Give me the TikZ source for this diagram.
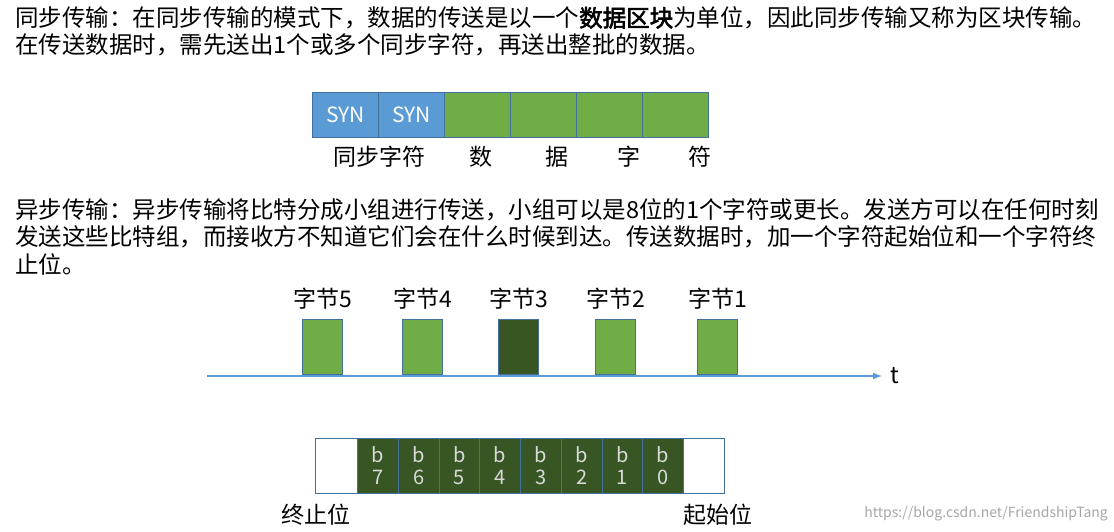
\documentclass[tikz,border=0pt]{standalone}
\usepackage{fontspec}
\setmainfont[AutoFakeBold=2.5]{Noto Sans CJK SC}
\usetikzlibrary{positioning}
\definecolor{synblue}{HTML}{5B9BD5}
\definecolor{datagreen}{HTML}{70AD47}
\definecolor{bitgreen}{HTML}{375623}
\definecolor{edgeblue}{HTML}{41719C}

\begin{document}
\begin{tikzpicture}[x=1pt,y=-1pt,
  txt/.style={anchor=west,inner sep=0pt,font=\fontsize{23.5}{27}\selectfont},
  lbl/.style={inner sep=0pt,font=\fontsize{23}{27}\selectfont},
  cell/.style={draw=edgeblue,line width=1pt,minimum height=45pt,inner sep=0pt,anchor=north west}]
  \useasboundingbox (0,0) rectangle (1114,532);
  % description texts
  \node[txt] (t1) at (15,18) {同步传输：在同步传输的模式下，数据的传送是以一个\textbf{数据区块}为单位，因此同步传输又称为区块传输。};
  \node[txt] (t2) at (15,45) {在传送数据时，需先送出1个或多个同步字符，再送出整批的数据。};
  \node[txt] (t3) at (15,210) {异步传输：异步传输将比特分成小组进行传送，小组可以是8位的1个字符或更长。发送方可以在任何时刻};
  \node[txt] (t4) at (15,237) {发送这些比特组，而接收方不知道它们会在什么时候到达。传送数据时，加一个字符起始位和一个字符终};
  \node[txt] (t5) at (15,264) {止位。};
  % synchronous frame
  \node[cell,fill=synblue,minimum width=66pt,text=white,font=\fontsize{21}{25}\selectfont] (s1) at (312,92) {SYN};
  \node[cell,fill=synblue,minimum width=66pt,text=white,font=\fontsize{21}{25}\selectfont] (s2) at (378,92) {SYN};
  \foreach \i in {0,...,3}
    \node[cell,fill=datagreen,minimum width=66pt] (d\i) at (444+66*\i,92) {};
  \node[lbl] (syn) at (379,157) {同步字符};
  \node[lbl] (c1) at (481,157) {数};
  \node[lbl] (c2) at (557,157) {据};
  \node[lbl] (c3) at (629,157) {字};
  \node[lbl] (c4) at (700,157) {符};
  % timeline
  \coordinate (ta) at (207,376);
  \coordinate (tb) at (882,376);
  \draw[synblue,line width=2pt,-latex] (ta) -- (tb);
  \node[lbl,right=8pt of tb] (t) {t};
  \foreach \x/\n in {302/5,402/4,595/2,697/1}{
    \node[cell,fill=datagreen,minimum width=40pt,minimum height=55pt] (byte\n) at (\x,319) {};
    \node[lbl,above=9pt of byte\n] {字节\n};
  }
  \node[cell,fill=bitgreen,minimum width=40pt,minimum height=55pt] (byte3) at (498,319) {};
  \node[lbl,above=9pt of byte3] {字节3};
  % asynchronous frame
  \node[cell,fill=white,minimum width=42pt,minimum height=55pt] (stop) at (315,438) {};
  \foreach \b [count=\k from 0] in {7,6,5,4,3,2,1,0}
    \node[cell,fill=bitgreen,minimum width=40.75pt,minimum height=55pt,text=white!85!black,align=center,font=\fontsize{20}{22}\selectfont] (bit\b) at (357+40.75*\k,438) {b\\\b};
  \node[cell,fill=white,minimum width=41pt,minimum height=55pt] (start) at (683,438) {};
  \node[lbl] (stoplbl) at (316,515) {终止位};
  \node[lbl] (startlbl) at (718,515) {起始位};
  \node[anchor=east,inner sep=0pt,text=black!35,font=\fontsize{14}{16}\selectfont] (mark) at (1108,514) {https://blog.csdn.net/FriendshipTang};
\end{tikzpicture}
\end{document}
